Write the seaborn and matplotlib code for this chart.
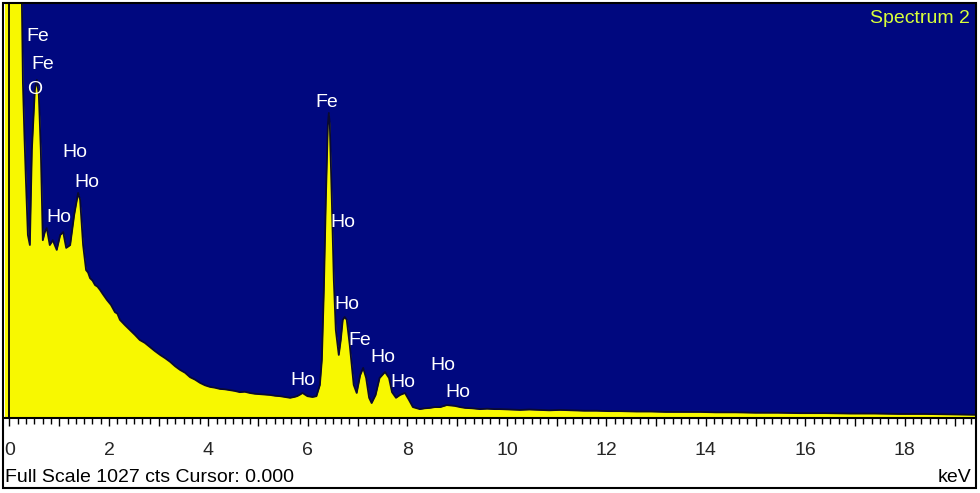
import numpy as np
import pandas as pd
import matplotlib
matplotlib.use("Agg")
import matplotlib.pyplot as plt
from matplotlib.patches import Rectangle
from matplotlib.ticker import FixedLocator
import seaborn as sns

# ---------------- data ----------------
energy_kev = [
    -0.10, 0.00, 0.23, 0.25, 0.27, 0.30, 0.33, 0.37, 0.41, 0.45, 0.51, 0.55, 0.59, 0.63,
    0.67, 0.71, 0.75, 0.81, 0.87, 0.95, 1.02, 1.08, 1.14, 1.22, 1.30, 1.38, 1.42,
    1.48, 1.54, 1.58, 1.62, 1.67, 1.72, 1.77, 1.82, 1.88, 1.96, 2.04, 2.12, 2.17,
    2.22, 2.32, 2.42, 2.52, 2.62, 2.72, 2.82, 2.92, 3.03, 3.13, 3.23, 3.33, 3.43,
    3.53, 3.63, 3.73, 3.83, 3.93, 4.03, 4.13, 4.23, 4.33, 4.43, 4.53, 4.63, 4.73,
    4.83, 4.93, 5.04, 5.14, 5.24, 5.34, 5.44, 5.54, 5.64, 5.72, 5.78, 5.84, 5.89,
    5.94, 5.99, 6.09, 6.17, 6.24, 6.28, 6.32, 6.36, 6.40, 6.42, 6.44, 6.48, 6.52,
    6.56, 6.62, 6.66, 6.70, 6.74, 6.78, 6.84, 6.92, 6.98, 7.05, 7.11, 7.17, 7.23,
    7.28, 7.36, 7.44, 7.55, 7.63, 7.69, 7.77, 7.85, 7.95, 8.03, 8.11, 8.25, 8.35,
    8.45, 8.55, 8.66, 8.79, 8.88, 8.95, 9.06, 9.16, 9.30, 9.46, 9.60, 9.75, 9.86,
    10.05, 10.26, 10.45, 10.66, 10.85, 11.07, 11.30, 11.55, 11.80, 12.05, 12.27,
    12.60, 12.90, 13.20, 13.55, 13.88, 14.20, 14.60, 15.00, 15.45, 15.89, 16.40,
    16.90, 17.40, 17.90, 18.40, 18.90, 19.41,
]
counts = [
    1100, 1100, 1100, 1027, 830, 700, 589, 453, 428, 663, 812, 837, 800, 663,
    440, 460, 470, 428, 440, 416, 453, 460, 421, 428, 502, 557, 540,
    428, 366, 360, 346, 340, 329, 325, 317, 306, 292, 280, 262, 258,
    243, 230, 218, 206, 193, 186, 176, 166, 156, 148, 139, 128, 119,
    112, 101, 95, 87, 81, 77, 75, 72, 71, 69, 67, 64, 65,
    62, 60, 59, 58, 57, 55, 54, 52, 50, 52, 54, 58, 62,
    58, 54, 52, 54, 82, 144, 317, 540, 725, 755, 725, 540, 342,
    218, 156, 193, 243, 250, 243, 181, 82, 62, 106, 124, 99, 50,
    37, 57, 99, 114, 99, 64, 50, 57, 62, 45, 27, 22, 24,
    25, 27, 27, 32, 31, 30, 27, 25, 24, 22, 23, 22, 22,
    21, 20, 21, 20, 19, 20, 19, 18, 18, 17, 17,
    16, 16, 15, 15, 15, 14, 14, 13, 13, 12, 12,
    11, 11, 10, 10, 9, 8,
]

peak_labels = ["Fe", "Fe", "O", "Ho", "Ho", "Ho", "Fe", "Ho", "Ho", "Fe",
               "Ho", "Ho", "Ho", "Ho", "Ho"]
label_kev = [0.57, 0.67, 0.51, 1.32, 1.56, 0.99, 6.38, 6.70, 6.78, 7.05,
             7.51, 7.91, 8.71, 9.02, 5.90]
label_cts = [943, 876, 812, 656, 584, 495, 780, 483, 282, 193,
             149, 89, 131, 62, 94]

x_ticks = [0, 2, 4, 6, 8, 10, 12, 14, 16, 18]
full_scale = 1027
spectrum_name = "Spectrum 2"
footer_text = "Full Scale 1027 cts Cursor: 0.000"
unit_text = "keV"

# ---------------- styling ----------------
sns.set_theme(style="white")
plt.rcParams["font.family"] = ["Liberation Sans", "DejaVu Sans"]

W, H = 980, 493
fig = plt.figure(figsize=(W / 100, H / 100), dpi=100)
fig.patch.set_facecolor("white")

left_px, right_px, top_px, bot_px = 4.5, 975, 3, 418
ax = fig.add_axes([left_px / W, (H - bot_px) / H,
                   (right_px - left_px) / W, (bot_px - top_px) / H])
ax.set_facecolor("#00087f")

df = pd.DataFrame({"energy": energy_kev, "counts": counts})
ax.fill_between(df["energy"], 0, df["counts"], color="#f8f800", lw=0, zorder=2)
sns.lineplot(data=df, x="energy", y="counts", ax=ax, color="#0a0a30",
             lw=1.3, zorder=3, estimator=None, sort=False)
ax.axvline(0, color="black", lw=1.3, zorder=4)

ax.set_xlim(-0.10, 19.41)
ax.set_ylim(0, full_scale)
ax.set_xlabel("")
ax.set_ylabel("")
ax.set_yticks([])

ax.xaxis.set_major_locator(FixedLocator(np.arange(0, 20, 1)))
ax.xaxis.set_minor_locator(FixedLocator(np.arange(0, 19.45, 1 / 6)))
ax.set_xticks(np.arange(0, 20, 1))
ax.set_xticklabels([str(t) if t in x_ticks else "" for t in range(20)])
ax.tick_params(axis="x", which="major", direction="out", length=6, width=1,
               color="black", pad=11, labelsize=14, bottom=True)
ax.tick_params(axis="x", which="minor", direction="out", length=4, width=1,
               color="black", bottom=True)

for side in ["top", "left", "right"]:
    ax.spines[side].set_visible(False)
ax.spines["bottom"].set_color("black")
ax.spines["bottom"].set_linewidth(1.5)

for lab, xk, yc in zip(peak_labels, label_kev, label_cts):
    ax.text(xk, yc, lab, color="white", fontsize=14, ha="center",
            va="center", zorder=5)

ax.text(0.9945, 0.962, spectrum_name, transform=ax.transAxes, color="#d8ff3a",
        fontsize=14, ha="right", va="center", zorder=5)

fig.text(5 / W, (H - 482) / H, footer_text, fontsize=14, color="black",
         ha="left", va="baseline")
fig.text(971 / W, (H - 482) / H, unit_text, fontsize=14, color="black",
         ha="right", va="baseline")

fig.patches.append(Rectangle((3 / W, (H - 488) / H), 973 / W, 485 / H,
                             transform=fig.transFigure, fill=False,
                             edgecolor="black", lw=1.5))

fig.savefig("out.png", dpi=100)
